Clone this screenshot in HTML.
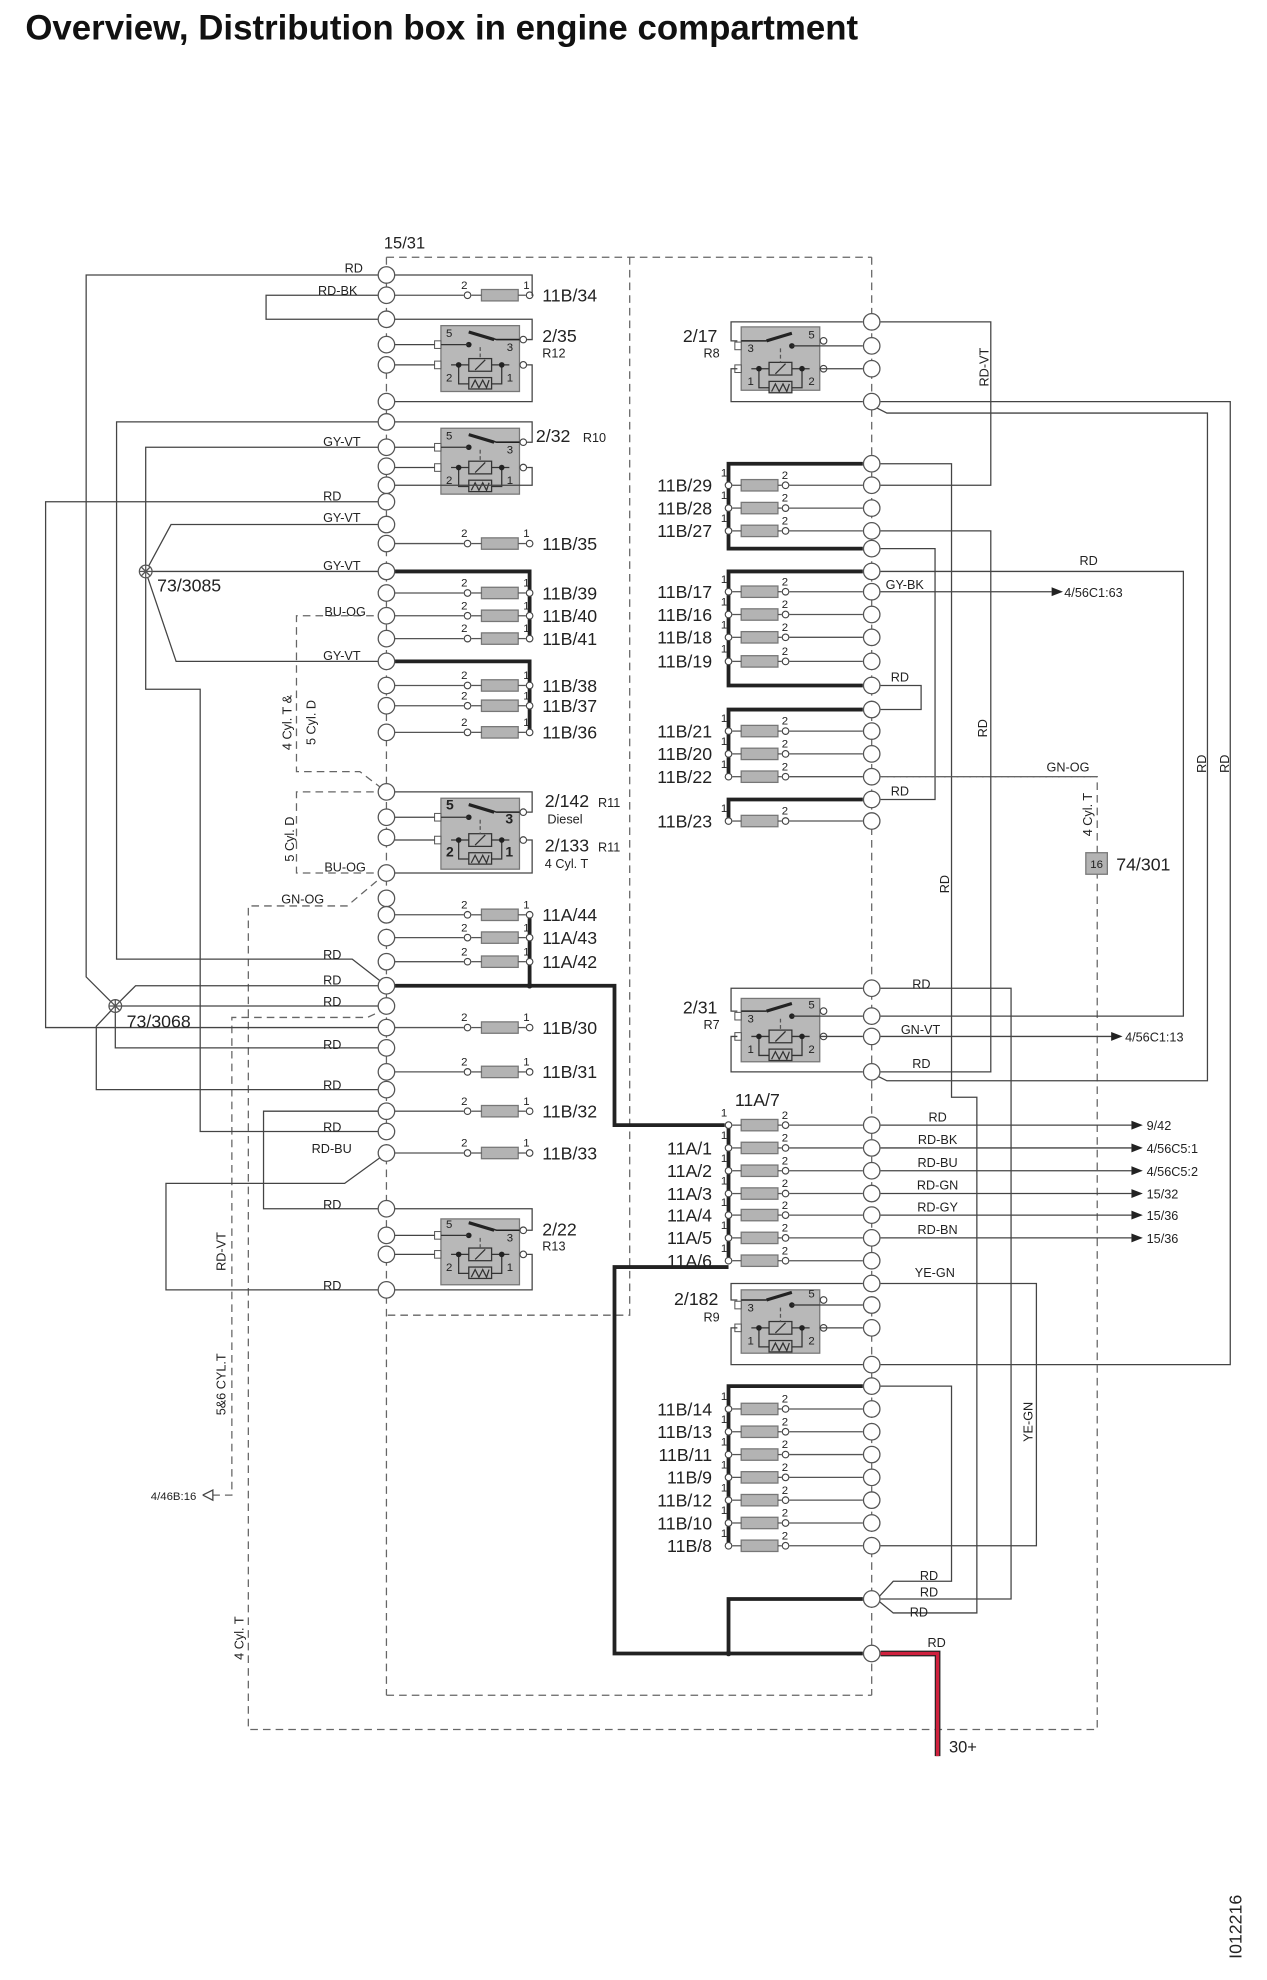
<!DOCTYPE html>
<html><head><meta charset="utf-8"><style>
html,body{margin:0;padding:0;background:#fff;}
svg{display:block;}
text{font-family:"Liberation Sans",Arial,sans-serif;fill:#222;}
</style></head><body>
<svg id="s" xmlns="http://www.w3.org/2000/svg" width="1267" height="1980" viewBox="0 0 1000 1562.7" preserveAspectRatio="none">
<rect width="1000" height="1563" fill="#fff"/>
<text x="20" y="31" font-size="27.5" font-weight="bold" style="fill:#111">Overview, Distribution box in engine compartment</text>
<text x="303" y="196" font-size="13">15/31</text>
<text transform="translate(980,1546) rotate(-90)" font-size="14">I012216</text>
</svg>
<script>
var S=document.getElementById('s'),NS='http://www.w3.org/2000/svg';
function E(t,a){var e=document.createElementNS(NS,t);for(var k in a)e.setAttribute(k,a[k]);S.appendChild(e);return e;}
function P(pts,o){o=o||{};E('polyline',{points:pts,fill:'none',stroke:o.c||'#444','stroke-width':o.w||1,'stroke-dasharray':o.d||'none'});}
function D(pts){P(pts,{c:'#666',d:'6,4'});}
function B(pts){P(pts,{c:'#222',w:3});}
function T(x,y,s,sz,an,rot,bold){var e=E('text',{x:x,y:y,'font-size':sz||10,'text-anchor':an||'start'});if(rot){e.setAttribute('transform','rotate(-90 '+x+' '+y+')');}if(bold)e.setAttribute('font-weight','bold');e.textContent=s;}
function C(x,y){E('circle',{cx:x,cy:y,r:6.5,fill:'#fff',stroke:'#555','stroke-width':1});}
function c(x,y){E('circle',{cx:x,cy:y,r:2.6,fill:'#fff',stroke:'#444','stroke-width':0.9});}
function dot(x,y){E('circle',{cx:x,cy:y,r:2.2,fill:'#222'});}
function arrow(x,y){E('polygon',{points:(x-9)+','+(y-3.5)+' '+x+','+y+' '+(x-9)+','+(y+3.5),fill:'#222'});}
D('305,203 688,203');D('497,203 497,1038 305,1038');D('305,1338 688,1338');
D('305,203 305,1338');D('688,203 688,1338');
D('305,689 274,715 196,715 196,1365 866,1365 866,613 696,613');
D('305,486 234,486 234,609 284,609 305,625');
D('305,625 234,625 234,689 305,689');
D('305,796 290,803 183,803 183,1180 168,1180');
P('160,1180 168,1176 168,1184 160,1180',{c:'#444'});
T(155,1184,'4/46B:16',9,'end');
T(178,1117,'5&6 CYL.T',10,'start',1);T(192,1310,'4 Cyl. T',10,'start',1);
T(230,592,'4 Cyl. T &',10,'start',1);T(249,588,'5 Cyl. D',10,'start',1);T(232,680,'5 Cyl. D',10,'start',1);
T(862,660,'4 Cyl. T',10,'start',1);
T(256,486,'BU-OG',10);T(256,688,'BU-OG',10);T(222,713,'GN-OG',10);T(826,609,'GN-OG',10);
P('305,217 68,217 68,771 91,794');T(272,215,'RD',10);
P('305,233 210,233 210,252 305,252');T(251,233,'RD-BK',10);
P('305,333 92,333 92,757 278,757 305,778');T(255,757,'RD',10);
P('305,353 115,353 115,544 158,544 158,893 305,893');T(255,352,'GY-VT',10);T(255,893,'RD',10);
P('305,396 36,396 36,811 305,811');T(255,395,'RD',10);
P('115,451 135,414 305,414');T(255,412,'GY-VT',10);
P('115,451 305,451');T(255,450,'GY-VT',10);
P('115,451 139,522 305,522');T(255,521,'GY-VT',10);
P('91,794 107,778 305,778');T(255,777,'RD',10);
P('91,794 305,794');T(255,794,'RD',10);
P('91,794 91,827 305,827');T(255,828,'RD',10);
P('91,794 76,810 76,860 305,860');T(255,860,'RD',10);
P('305,877 208,877 208,954 305,954');T(255,954,'RD',10);
P('305,910 272,934 131,934 131,1018 305,1018');T(246,910,'RD-BU',10);T(255,1018,'RD',10);
T(178,1003,'RD-VT',10,'start',1);
[[115,451],[91,794]].forEach(function(p){E('circle',{cx:p[0],cy:p[1],r:5,fill:'#fff',stroke:'#555'});P((p[0]-3.5)+','+(p[1]-3.5)+' '+(p[0]+3.5)+','+(p[1]+3.5),{c:'#555'});P((p[0]-3.5)+','+(p[1]+3.5)+' '+(p[0]+3.5)+','+(p[1]-3.5),{c:'#555'});P((p[0]-5)+','+p[1]+' '+(p[0]+5)+','+p[1],{c:'#555'});P(p[0]+','+(p[1]-5)+' '+p[0]+','+(p[1]+5),{c:'#555'});});
T(124,467,'73/3085',14);T(100,811,'73/3068',14);
function FL(y,lab,bus){P('311,'+y+' 366,'+y,{c:'#555'});c(369,y);E('rect',{x:380,y:y-4.5,width:29,height:9,fill:'#b3b3b3',stroke:'#777'});P('372,'+y+' 380,'+y+'',{c:'#555'});P('409,'+y+' 415,'+y,{c:'#555'});c(418,y);T(364,y-5,'2',9);T(413,y-5,'1',9);T(428,y+5,lab,14);}
B('311,451 418,451 418,504');B('311,522 418,522 418,578');B('418,722 418,778');B('311,778 485,778 485,888 572,888');
dot(418,778);
FL(233,'11B/34');P('311,217 420,217 420,233 421,233');
FL(429,'11B/35');FL(468,'11B/39');FL(486,'11B/40');FL(504,'11B/41');
FL(541,'11B/38');FL(557,'11B/37');FL(578,'11B/36');
FL(722,'11A/44');FL(740,'11A/43');FL(759,'11A/42');
FL(811,'11B/30');FL(846,'11B/31');FL(877,'11B/32');FL(910,'11B/33');
function relay(x0,y0,h,a,b,mir,bold){
 E('rect',{x:x0,y:y0,width:62,height:h,fill:'#b8b8b8',stroke:'#777'});
 var L=x0,R=x0+62;
 E('rect',{x:L-5,y:a-3,width:5,height:6,fill:'#fff',stroke:'#555','stroke-width':0.8});
 E('rect',{x:L-5,y:b-3,width:5,height:6,fill:'#fff',stroke:'#555','stroke-width':0.8});
 c(R+3,a-4);c(R+3,b);
 var mx=x0+31;
 P((x0+8)+','+b+' '+(x0+54)+','+b,{c:'#333'});
 E('rect',{x:mx-9,y:b-5,width:18,height:10,fill:'#b8b8b8',stroke:'#333'});P((mx-4)+','+(b+4)+' '+(mx+4)+','+(b-4),{c:'#333'});
 P((x0+14)+','+b+' '+(x0+14)+','+(b+15)+' '+(x0+48)+','+(b+15)+' '+(x0+48)+','+b,{c:'#333'});
 E('rect',{x:mx-9,y:b+10,width:18,height:9,fill:'#b8b8b8',stroke:'#333'});
 P((mx-7)+','+(b+18)+' '+(mx-4)+','+(b+12)+' '+(mx-1)+','+(b+18)+' '+(mx+2)+','+(b+12)+' '+(mx+5)+','+(b+18)+' '+(mx+7)+','+(b+12),{c:'#333'});
 dot(x0+14,b);dot(x0+48,b);
 P(mx+','+(a+2)+' '+mx+','+(b-5),{c:'#555',d:'3,2'});
 if(!mir){P((x0+22)+','+(a-10)+' '+(x0+44)+','+(a-4)+' '+R+','+(a-4),{c:'#222',w:1.2});P((x0+22)+','+(a-10)+' '+(x0+42)+','+(a-4),{c:'#222',w:2.5});dot(x0+22,a);P(L+','+a+' '+(x0+22)+','+a,{c:'#333'});}
 else{P(L+','+(a-4)+' '+(x0+20)+','+(a-4),{c:'#222',w:1.2});P((x0+20)+','+(a-4)+' '+(x0+40)+','+(a-10),{c:'#222',w:2.5});dot(x0+40,a);P((x0+40)+','+a+' '+R+','+a,{c:'#333'});}
 var f=bold?11:9,w=bold;
 if(!mir){T(x0+4,a-6,'5',f,'start',0,w);T(x0+57,a+5,'3',f,'end',0,w);T(x0+4,b+13,'2',f,'start',0,w);T(x0+57,b+13,'1',f,'end',0,w);}
 else{T(x0+5,a+5,'3',f);T(x0+58,a-6,'5',f,'end');T(x0+5,b+13,'1',f);T(x0+58,b+13,'2',f,'end');}
}
function RL(y0,h,top,a,b,bot,bold){relay(348,y0,h,a,b,false,bold);P('311,'+a+' 343,'+a,{c:'#444'});P('311,'+b+' 343,'+b,{c:'#444'});
 P('311,'+top+' 420,'+top+' 420,'+(a-4)+' 416,'+(a-4));P('416,'+b+' 420,'+b+' 420,'+bot+' 311,'+bot);}
RL(257,52,252,272,288,317);T(428,270,'2/35',14);T(428,282,'R12',10);
RL(338,52,333,353,369,383);T(423,349,'2/32',14);T(460,349,'R10',10);
RL(630,56,625,645,663,689,true);T(430,637,'2/142',14);T(472,637,'R11',10);T(432,650,'Diesel',10);T(430,672,'2/133',14);T(472,672,'R11',10);T(430,685,'4 Cyl. T',10);
RL(962,52,954,975,990,1018);T(428,975,'2/22',14);T(428,987,'R13',10);
function RR(y0,h,top,a,b,bot){relay(585,y0,h,a,b,true);P('647,'+a+' 681,'+a,{c:'#444'});P('647,'+b+' 681,'+b,{c:'#444'});
 P('681,'+top+' 577,'+top+' 577,'+(a-4)+' 582,'+(a-4));P('582,'+b+' 577,'+b+' 577,'+bot+' 681,'+bot);}
RR(258,50,254,273,291,317);T(539,270,'2/17',14);T(568,282,'R8',10,'end');
RR(788,50,780,802,818,846);T(539,800,'2/31',14);T(568,812,'R7',10,'end');
RR(1018,50,1013,1030,1048,1077);T(532,1030,'2/182',14);T(568,1043,'R9',10,'end');
function FR(y,lab){c(575,y);E('rect',{x:585,y:y-4.5,width:29,height:9,fill:'#b3b3b3',stroke:'#777'});P('578,'+y+' 585,'+y,{c:'#555'});P('614,'+y+' 617,'+y,{c:'#555'});c(620,y);P('623,'+y+' 681,'+y,{c:'#555'});T(569,y-7,'1',9);T(617,y-5,'2',9);if(lab)T(562,y+5,lab,14,'end');}
B('681,366 575,366 575,433 681,433');B('681,451 575,451 575,541 681,541');B('681,560 575,560 575,613');B('681,631 575,631 575,648');
B('575,888 575,995');B('575,1000 485,1000 485,1305 681,1305');B('681,1094 575,1094 575,1220');B('681,1262 575,1262 575,1305');dot(575,1305);
[[383,'11B/29'],[401,'11B/28'],[419,'11B/27'],[467,'11B/17'],[485,'11B/16'],[503,'11B/18'],[522,'11B/19'],[577,'11B/21'],[595,'11B/20'],[613,'11B/22'],[648,'11B/23'],[888,''],[906,'11A/1'],[924,'11A/2'],[942,'11A/3'],[959,'11A/4'],[977,'11A/5'],[995,'11A/6'],[1112,'11B/14'],[1130,'11B/13'],[1148,'11B/11'],[1166,'11B/9'],[1184,'11B/12'],[1202,'11B/10'],[1220,'11B/8']].forEach(function(r){FR(r[0],r[1]);});
T(580,873,'11A/7',14);
P('695,254 782,254 782,383 695,383');T(780,305,'RD-VT',10,'start',1);
P('695,317 971,317 971,1077 695,1077');
P('692,322 700,326 953,326 953,853 700,853 692,849');T(952,610,'RD',10,'start',1);T(970,610,'RD',10,'start',1);
P('695,366 751,366 751,866 771,866 771,1273 705,1273 694,1264');T(749,705,'RD',10,'start',1);T(718,1276,'RD',10);
P('695,419 782,419 782,846 695,846');T(779,582,'RD',10,'start',1);T(720,843,'RD',10);
P('695,433 738,433 738,631 695,631');T(703,628,'RD',10);
P('695,451 934,451 934,802 695,802');T(852,446,'RD',10);
P('695,467 830,467');arrow(839,467);T(840,471,'4/56C1:63',10);T(699,465,'GY-BK',10);
P('695,541 727,541 727,560 695,560');T(703,538,'RD',10);
P('695,780 798,780 798,1262 695,1262');T(720,780,'RD',10);T(726,1260,'RD',10);
P('695,818 879,818');arrow(886,818);T(888,822,'4/56C1:13',10);T(711,816,'GN-VT',10);
P('695,1094 751,1094 751,1248 705,1248 694,1260');T(726,1247,'RD',10);
P('695,1013 818,1013 818,1220 695,1220');T(722,1008,'YE-GN',10);T(815,1138,'YE-GN',10,'start',1);
[[888,'9/42','RD'],[906,'4/56C5:1','RD-BK'],[924,'4/56C5:2','RD-BU'],[942,'15/32','RD-GN'],[959,'15/36','RD-GY'],[977,'15/36','RD-BN']].forEach(function(r){P('695,'+r[0]+' 893,'+r[0]);arrow(902,r[0]);T(905,r[0]+4,r[1],10);T(740,r[0]-3,r[2],10,'middle');});
D('695,613 866,613');
E('rect',{x:857,y:673,width:17,height:17,fill:'#b3b3b3',stroke:'#777'});T(865.5,685,'16',9,'middle');T(881,687,'74/301',14);
P('695,1305 740,1305 740,1386',{c:'#222',w:4.5});P('695,1305 740,1305 740,1386',{c:'#d0213e',w:2.6});T(732,1300,'RD',10);T(749,1383,'30+',13);
[217,233,252,272,288,317,333,353,368,383,396,414,429,451,468,486,504,522,541,557,578,625,645,661,689,709,722,740,759,778,794,811,827,846,860,877,893,910,954,975,990,1018].forEach(function(y){C(305,y);});
[254,273,291,317,366,383,401,419,433,451,467,485,503,522,541,560,577,595,613,631,648,780,802,818,846,888,906,924,942,959,977,995,1013,1030,1048,1077,1094,1112,1130,1148,1166,1184,1202,1220,1262,1305].forEach(function(y){C(688,y);});
</script>
</body></html>
